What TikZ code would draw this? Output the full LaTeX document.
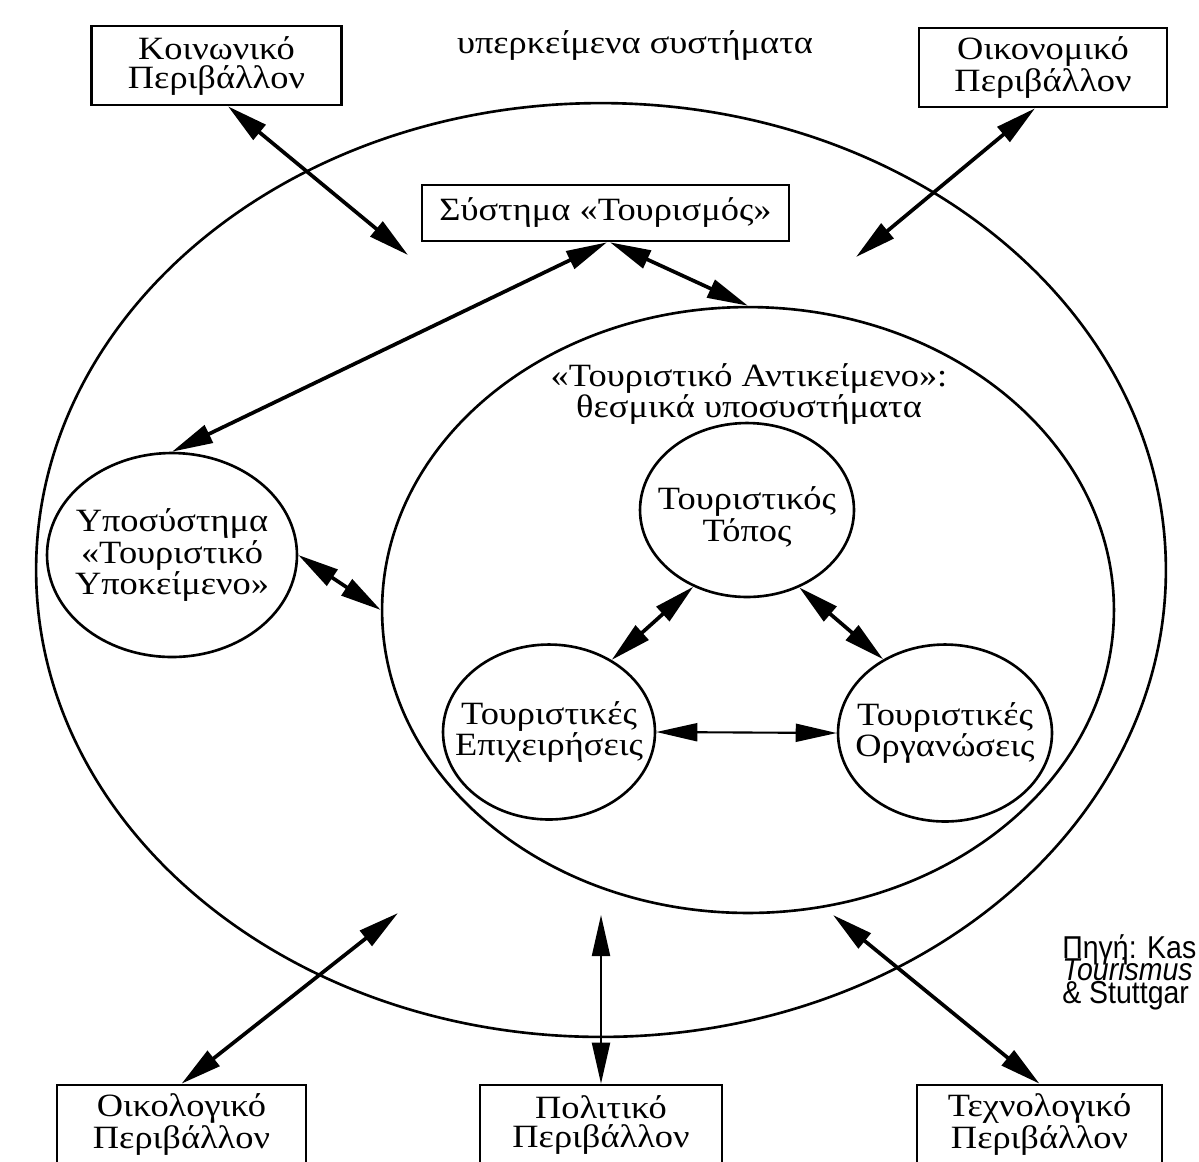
\documentclass[tikz,border=0pt]{standalone}
\usepackage{fontspec}
\setmainfont{Liberation Serif}[FakeStretch=1.12]
\newfontfamily\srcfont{Liberation Sans}[FakeStretch=0.9]
\usetikzlibrary{shapes.geometric,arrows.meta}
\begin{document}
\begin{tikzpicture}[x=0.02cm,y=-0.02cm,
  lbl/.style={font=\fontsize{18.5}{15.5}\selectfont, align=center, inner sep=0pt},
  envbox/.style={draw, line width=1.5pt, minimum width=5cm, minimum height=1.58cm, inner sep=0pt, lbl, font=\fontsize{18.5}{16.5}\selectfont},
  oval/.style={draw, ellipse, line width=1.5pt, inner sep=0pt},
  src/.style={font=\srcfont\fontsize{18}{18}\selectfont, inner sep=0pt, anchor=base west},
  dbl/.style={line width=2.1pt, {Triangle[length=0.82cm,width=0.38cm]}-{Triangle[length=0.82cm,width=0.38cm]}},
  thinarr/.style={line width=1.2pt, {Triangle[length=0.82cm,width=0.36cm]}-{Triangle[length=0.82cm,width=0.36cm]}}
]
\useasboundingbox[fill=white] (0,0) rectangle (1199,1161);

% environment boxes
\node[envbox] (soc) at (216.5,65.5) {Κοινωνικό\\Περιβάλλον};
\node[envbox, minimum width=4.96cm] (eco) at (1043,67.5) {Οικονομικό\\Περιβάλλον};
\node[lbl, anchor=base] (super) at (635,53) {υπερκείμενα συστήματα};
\node[envbox, minimum width=7.34cm, minimum height=1.12cm] (sys) at (605.5,213) {Σύστημα «Τουρισμός»};
\node[envbox, minimum width=4.98cm] (ecol) at (181.5,1124.5) {Οικολογικό\\Περιβάλλον};
\node[envbox, minimum width=4.84cm] (pol) at (601,1124.5) {Πολιτικό\\Περιβάλλον};
\node[envbox, minimum width=4.9cm] (tech) at (1039.5,1124.5) {Τεχνολογικό\\Περιβάλλον};

% big ellipses
\node[oval, minimum width=22.6cm, minimum height=18.68cm] (outer) at (601,570) {};
\node[oval, minimum width=14.64cm, minimum height=12.12cm] (inner) at (748,610) {};
\node[lbl] (innerlbl) at (749,394) {«Τουριστικό Αντικείμενο»:\\θεσμικά υποσυστήματα};

% small ellipses
\node[oval, minimum width=5cm, minimum height=4.08cm] (sub) at (172,555) {};
\node[lbl] (subtxt) at (sub.center) {Υποσύστημα\\«Τουριστικό\\Υποκείμενο»};
\node[oval, minimum width=4.28cm, minimum height=3.48cm] (dest) at (747,510) {};
\node[lbl] (desttxt) at (747,517) {Τουριστικός\\Τόπος};
\node[oval, minimum width=4.24cm, minimum height=3.5cm] (ent) at (549,732) {};
\node[lbl] (enttxt) at (ent.center) {Τουριστικές\\Επιχειρήσεις};
\node[oval, minimum width=4.28cm, minimum height=3.54cm] (org) at (945,733) {};
\node[lbl] (orgtxt) at (org.center) {Τουριστικές\\Οργανώσεις};

% source
\node[src] (src1) at (1062,958) {Πηγή: Kas};
\node[src] (src2) at (1062,980) {\itshape Tourismus};
\node[src] (src3) at (1062,1003) {\& Stuttgar};

% free arrow ends
\coordinate (socTip) at (408,255);
\coordinate (ecoTip) at (856,257);
\coordinate (ecolTip) at (398,913);
\coordinate (polTip) at (601,915);
\coordinate (techTip) at (833,915);

% connectors
\draw[dbl] ([xshift=0.23cm]soc.south) -- (socTip);
\draw[dbl] ([xshift=-0.16cm]eco.south) -- (ecoTip);
\draw[dbl] ([xshift=0.03cm]sys.south) -- (sub.north);
\draw[dbl] ([xshift=0.09cm]sys.south) -- (inner.north);
\draw[dbl] (sub.east) -- (inner.west);
\draw[dbl] (dest.-125) -- (ent.49);
\draw[dbl] (dest.-56) -- (org.130);
\draw[thinarr] (ent.east) -- (org.west);
\draw[dbl] (ecol.north) -- (ecolTip);
\draw[thinarr] (pol.north) -- (polTip);
\draw[dbl] (tech.north) -- (techTip);
\end{tikzpicture}
\end{document}
